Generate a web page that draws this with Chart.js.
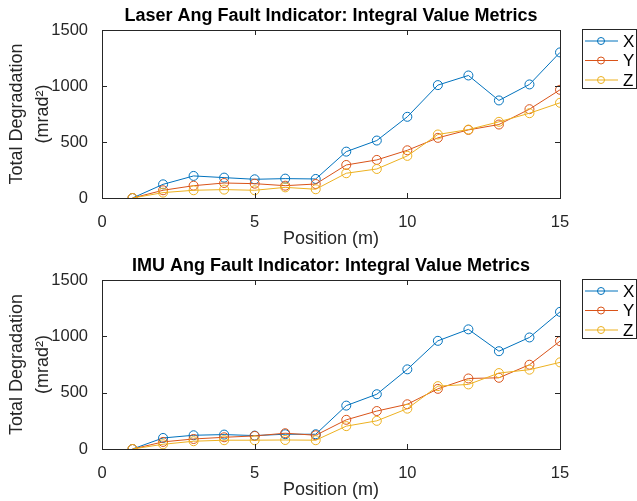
<!DOCTYPE html>
<html>
<head>
<meta charset="utf-8">
<script src="https://cdn.jsdelivr.net/npm/chart.js@4"></script>
<style>
  body { margin: 0; background: #fff; }
  .box { position: absolute; left: 0; width: 637px; }
</style>
</head>
<body>
<div class="box" style="top:0;height:250px"><canvas id="laser"></canvas></div>
<div class="box" style="top:250px;height:251px"><canvas id="imu"></canvas></div>
<script>
// positions along the track (m)
const positions = [1, 2, 3, 4, 5, 6, 7, 8, 9, 10, 11, 12, 13, 14, 15];

// laser fault indicator
const laserX = [0, 122, 197, 182, 167, 173, 170, 414, 513, 725, 1008, 1094, 871, 1014, 1300];
const laserY = [0, 69, 110, 134, 128, 110, 125, 295, 340, 426, 537, 608, 656, 793, 966];
const laserZ = [0, 48, 69, 75, 69, 95, 78, 221, 259, 376, 567, 611, 680, 757, 850];

// IMU fault indicator
const imuX = [0, 98, 122, 128, 119, 131, 131, 385, 486, 707, 960, 1062, 868, 990, 1217];
const imuY = [0, 63, 89, 104, 116, 140, 122, 259, 337, 397, 534, 626, 632, 748, 957];
const imuZ = [0, 42, 69, 78, 78, 80, 78, 203, 250, 358, 558, 573, 674, 704, 769];

const xTicks = [0, 5, 10, 15];
const yTicks = [0, 500, 1000, 1500];

const colors = ['#0072BD', '#D95319', '#EDB120'];
const names = ['X', 'Y', 'Z'];
const FONT = "'Liberation Sans', Arial, sans-serif";
const AXIS = '#262626';

// title over the plot, box with inward ticks, legend outside right
const matlabAxes = {
    id: 'matlabAxes',
    afterDraw(chart, args, opts) {
        const ctx = chart.ctx;
        const a = chart.chartArea;
        const xs = chart.scales.x, ys = chart.scales.y;
        ctx.save();

        ctx.fillStyle = '#000';
        ctx.font = 'bold 18px ' + FONT;
        ctx.textAlign = 'center';
        ctx.textBaseline = 'middle';
        ctx.fillText(opts.title, (a.left + a.right) / 2, 16);

        ctx.strokeStyle = AXIS;
        ctx.lineWidth = 1;
        ctx.strokeRect(Math.round(a.left) + 0.5, Math.round(a.top) + 0.5,
            Math.round(a.right - a.left), Math.round(a.bottom - a.top));
        ctx.beginPath();
        xTicks.forEach(v => {
            const px = Math.round(xs.getPixelForValue(v)) + 0.5;
            ctx.moveTo(px, a.bottom); ctx.lineTo(px, a.bottom - 5);
            ctx.moveTo(px, a.top); ctx.lineTo(px, a.top + 5);
        });
        yTicks.forEach(v => {
            const py = Math.round(ys.getPixelForValue(v)) + 0.5;
            ctx.moveTo(a.left, py); ctx.lineTo(a.left + 5, py);
            ctx.moveTo(a.right, py); ctx.lineTo(a.right - 5, py);
        });
        ctx.stroke();

        // legend
        const lx = 582, ly = 29, lw = 54, lh = 59;
        ctx.fillStyle = '#fff';
        ctx.fillRect(lx, ly, lw, lh);
        ctx.strokeStyle = AXIS;
        ctx.strokeRect(lx + 0.5, ly + 0.5, lw, lh);
        ctx.font = '17px ' + FONT;
        ctx.textAlign = 'left';
        chart.data.datasets.forEach((ds, i) => {
            const y = ly + 12 + i * 19.5;
            ctx.strokeStyle = ds.borderColor;
            ctx.beginPath();
            ctx.moveTo(lx + 3, y); ctx.lineTo(lx + 36, y);
            ctx.stroke();
            ctx.beginPath();
            ctx.arc(lx + 19, y, 3.5, 0, Math.PI * 2);
            ctx.stroke();
            ctx.fillStyle = '#000';
            ctx.fillText(ds.label, lx + 41, y + 1);
        });
        ctx.restore();
    }
};

function makeChart(id, title, series) {
    new Chart(document.getElementById(id), {
        type: 'line',
        data: {
            datasets: series.map((vals, i) => ({
                label: names[i],
                data: positions.map((p, j) => ({ x: p, y: vals[j] })),
                borderColor: colors[i],
                backgroundColor: colors[i],
                pointBackgroundColor: 'rgba(0,0,0,0)',
                pointBorderColor: colors[i],
                pointRadius: 4.5,
                pointBorderWidth: 1,
                borderWidth: 1,
                tension: 0,
                order: 3 - i
            }))
        },
        options: {
            responsive: true,
            maintainAspectRatio: false,
            animation: false,
            layout: { padding: { left: 0, right: 77, top: 30, bottom: 0 } },
            scales: {
                x: {
                    type: 'linear',
                    min: 0, max: 15,
                    afterFit: s => { s.height = 52; },
                    afterBuildTicks: s => { s.ticks = xTicks.map(v => ({ value: v })); },
                    grid: { display: false },
                    border: { display: false },
                    ticks: { color: AXIS, padding: 7, font: { family: FONT, size: 16.5 }, maxRotation: 0,
                        callback: v => String(v) },
                    title: { display: true, text: 'Position (m)', color: AXIS,
                        font: { family: FONT, size: 18 }, padding: { top: 0, bottom: 0 } }
                },
                y: {
                    min: 0, max: 1500,
                    afterFit: s => { s.width = 102; },
                    afterBuildTicks: s => { s.ticks = yTicks.map(v => ({ value: v })); },
                    grid: { display: false },
                    border: { display: false },
                    ticks: { color: AXIS, padding: 6, font: { family: FONT, size: 16.5 },
                        callback: v => String(v) },
                    title: { display: true, text: ['Total Degradation', '(mrad\u00B2)'], color: AXIS,
                        font: { family: FONT, size: 18, lineHeight: 1.45 }, padding: { top: 4, bottom: 0 } }
                }
            },
            plugins: {
                legend: { display: false },
                tooltip: { enabled: false },
                title: { display: false },
                matlabAxes: { title: title }
            }
        },
        plugins: [matlabAxes]
    });
}

makeChart('laser', 'Laser Ang Fault Indicator: Integral Value Metrics', [laserX, laserY, laserZ]);
makeChart('imu', 'IMU Ang Fault Indicator: Integral Value Metrics', [imuX, imuY, imuZ]);
</script>
</body>
</html>
